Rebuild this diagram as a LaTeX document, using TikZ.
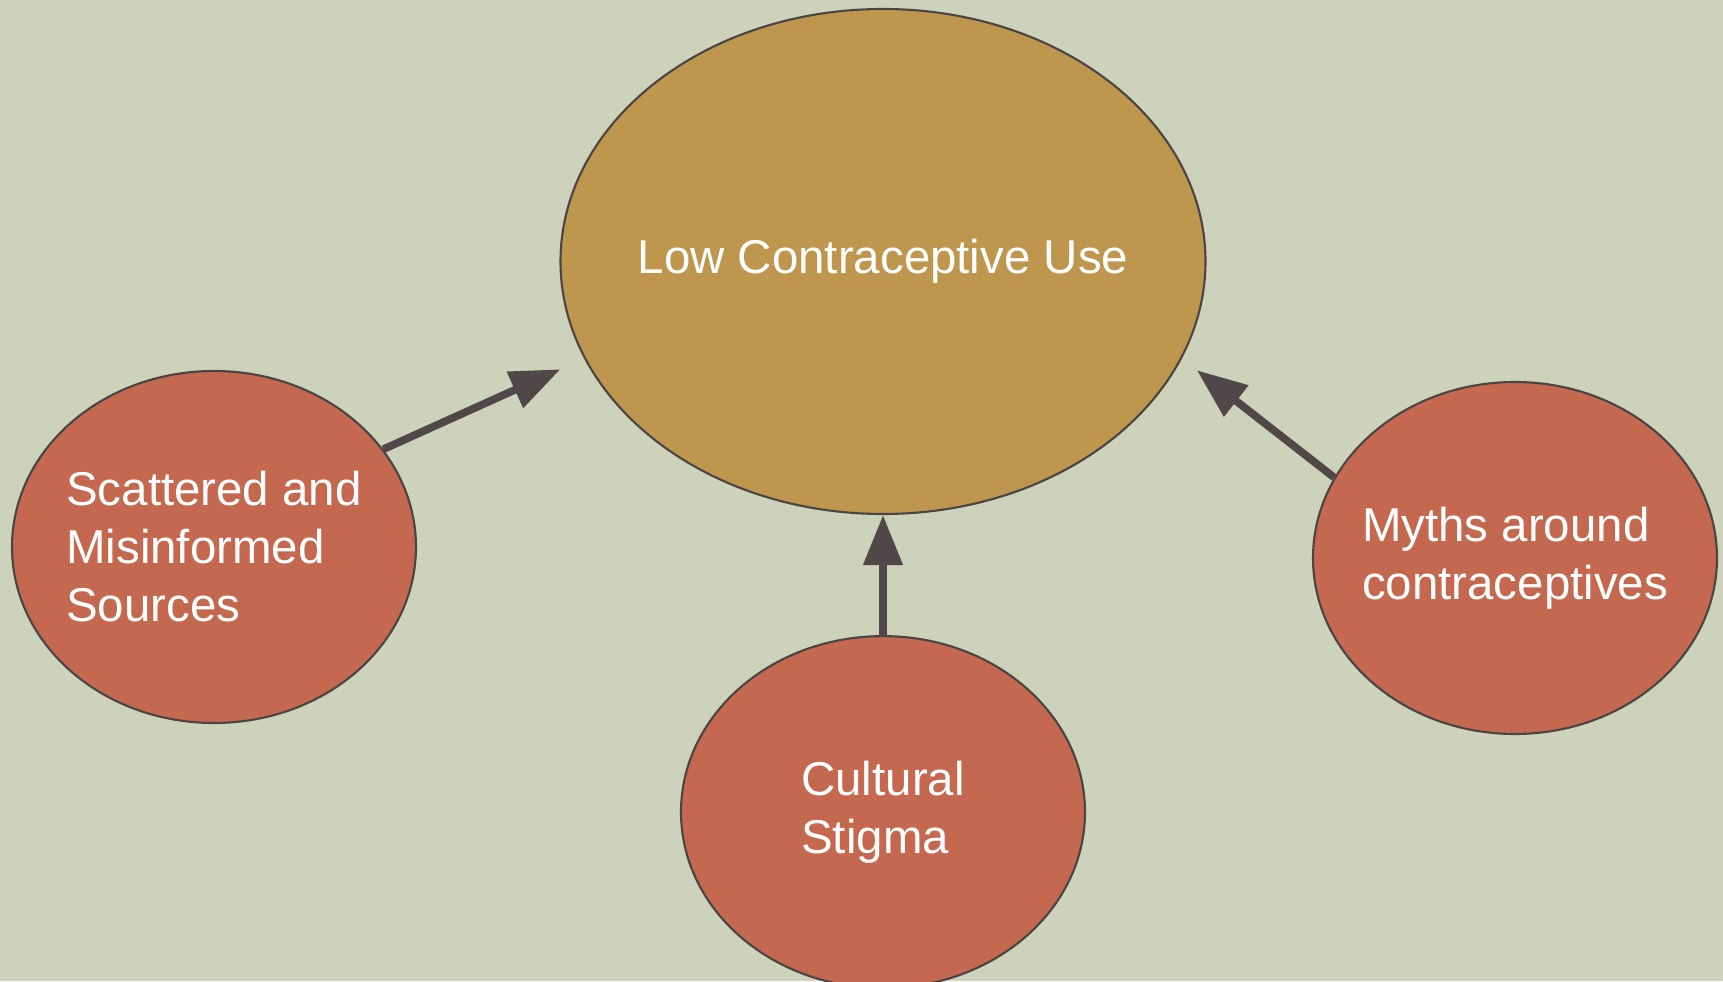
\documentclass[tikz,border=0pt]{standalone}
\usepackage{fontspec}
\setmainfont{Liberation Sans}
\usepackage{tikz}
\usetikzlibrary{shapes.geometric, arrows.meta, positioning}
\definecolor{bgsage}{RGB}{204,211,186}
\definecolor{coreochre}{RGB}{191,150,77}
\definecolor{causered}{RGB}{196,104,80}
\definecolor{edgegray}{RGB}{74,68,68}
\definecolor{arrowgray}{RGB}{80,72,72}

\begin{document}
\begin{tikzpicture}[
    core/.style={ellipse, draw=edgegray, line width=0.6pt, fill=coreochre, minimum width=6.45cm,
                 minimum height=5.05cm, inner xsep=-0.6cm, inner ysep=0pt, align=center, text=white},
    cause/.style={ellipse, draw=edgegray, line width=0.6pt, fill=causered, minimum width=4.04cm,
                 minimum height=3.52cm, inner xsep=-0.6cm, inner ysep=0pt, align=left, text=white},
    leadsto/.style={-{Triangle[length=0.5cm, width=0.38cm]}, line width=2.2pt, draw=arrowgray},
    font=\fontsize{13.5pt}{16.5pt}\selectfont
]
    \useasboundingbox (0,0) rectangle (17.23,9.81);
    \fill[bgsage] (0,0) rectangle (17.23,9.81);

    \node[core] (lowuse) at (8.83,7.195) {Low Contraceptive Use};
    \node[cause] (sources) at (2.14,4.34) {Scattered and\\Misinformed\\Sources};
    \node[cause, below=1.2cm of lowuse] (stigma) {Cultural\\Stigma};
    \node[cause] (myths) at (15.15,4.23) {Myths around\\contraceptives};
    
    \draw[leadsto, shorten >=0.26cm] (sources.30) -- (lowuse.198);
    \draw[leadsto] (stigma.north) -- (lowuse.south);
    \draw[leadsto, shorten >=0.19cm] (myths.156) -- (lowuse.-18);
\end{tikzpicture}
\end{document}
